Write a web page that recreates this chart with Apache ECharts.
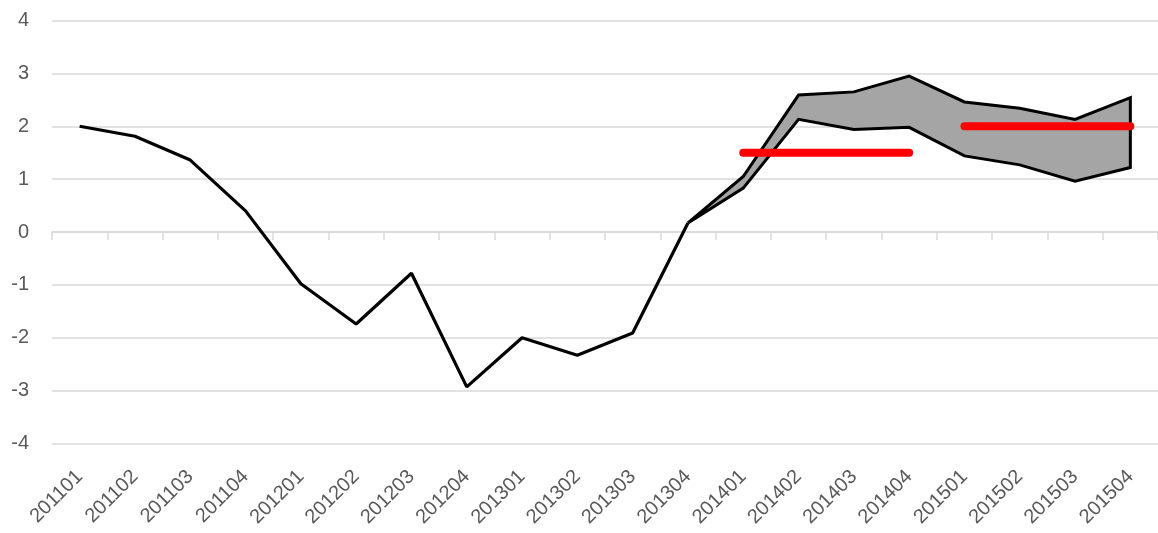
<!DOCTYPE html>
<html>
<head>
<meta charset="utf-8">
<script src="https://cdn.jsdelivr.net/npm/echarts@6/dist/echarts.min.js"></script>
<style>
html,body{margin:0;padding:0;background:#fff;}
#chart{width:1158px;height:533px;}
</style>
</head>
<body>
<div id="chart"></div>
<script>
var categories = ['201101','201102','201103','201104','201201','201202','201203','201204',
    '201301','201302','201303','201304','201401','201402','201403','201404',
    '201501','201502','201503','201504'];
// 历史值
var actual = [2.0, 1.81, 1.36, 0.40, -0.98, -1.74, -0.78, -2.93,
    -2.0, -2.33, -1.91, 0.17, null, null, null, null, null, null, null, null];
// 区间上下限
var upper = [null, null, null, null, null, null, null, null, null, null, null,
    0.17, 1.05, 2.59, 2.65, 2.95, 2.46, 2.34, 2.13, 2.54];
var lower = [null, null, null, null, null, null, null, null, null, null, null,
    0.17, 0.83, 2.13, 1.94, 1.98, 1.44, 1.27, 0.96, 1.22];
// 目标线
var target2014 = [null, null, null, null, null, null, null, null, null, null, null, null,
    1.5, 1.5, 1.5, 1.5, null, null, null, null];
var target2015 = [null, null, null, null, null, null, null, null, null, null, null, null,
    null, null, null, null, 2, 2, 2, 2];
var yTicks = {min: -4, max: 4, step: 1};

var myChart = echarts.init(document.getElementById('chart'));
var gridColor = '#d9d9d9';
var font = '"Liberation Sans", Arial, sans-serif';

option = {
    animation: false,
    grid: {left: 52, top: 20.5, width: 1115, bottom: 89.5, containLabel: false},
    xAxis: [{
        type: 'category',
        data: categories,
        position: 'bottom',
        axisLine: {show: false, onZero: false},
        axisTick: {show: false},
        axisLabel: {
            rotate: 45,
            margin: 30,
            color: '#595959',
            fontSize: 20,
            fontFamily: font,
            interval: 0
        }
    }, {
        type: 'category',
        data: categories,
        position: 'bottom',
        axisLine: {show: true, onZero: true, lineStyle: {color: gridColor, width: 1.5}},//零轴
        axisTick: {show: true, length: 8, lineStyle: {color: gridColor, width: 1.5}},
        axisLabel: {show: false}
    }],
    yAxis: {
        type: 'value',
        min: yTicks.min,
        max: yTicks.max,
        interval: yTicks.step,
        axisLine: {show: false},
        axisTick: {show: false},
        splitLine: {lineStyle: {color: gridColor, width: 1.5}},
        axisLabel: {
            margin: 23,
            color: '#595959',
            fontSize: 20,
            fontFamily: font
        }
    },
    series: [{
        type: 'custom',
        data: [0],
        z: 2,
        renderItem: function (params, api) {
            var pts = [];
            for (var i = 0; i < categories.length; i++) {
                if (upper[i] != null) pts.push(api.coord([i, upper[i]]));
            }
            for (var j = categories.length - 1; j >= 0; j--) {
                if (lower[j] != null) pts.push(api.coord([j, lower[j]]));
            }
            return {
                type: 'polygon',
                shape: {points: pts},
                style: {fill: '#a5a5a5', stroke: '#000', lineWidth: 3, lineJoin: 'miter'}
            };
        }
    }, {
        type: 'line',
        data: actual,
        z: 3,
        symbol: 'none',
        lineStyle: {color: '#000', width: 3.2}
    }, {
        type: 'line',
        data: target2014,
        z: 4,
        symbol: 'none',
        lineStyle: {color: '#ff0000', width: 8, cap: 'round'}
    }, {
        type: 'line',
        data: target2015,
        z: 4,
        symbol: 'none',
        lineStyle: {color: '#ff0000', width: 8, cap: 'round'}
    }]
};
myChart.setOption(option);
</script>
</body>
</html>
